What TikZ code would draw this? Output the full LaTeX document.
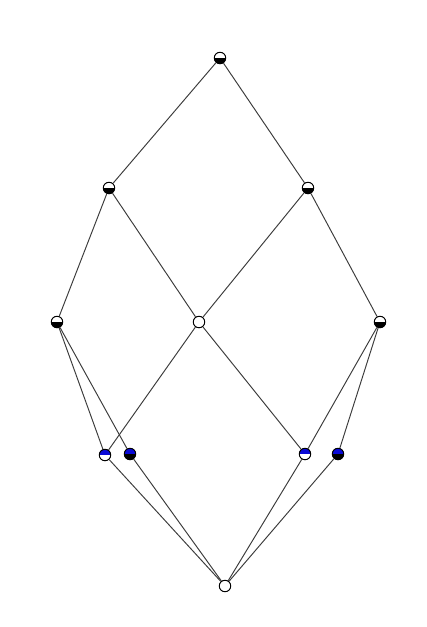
\documentclass[tikz,border=0pt]{standalone}
\usepackage{tikz}
\usepackage{xcolor}
\usetikzlibrary{positioning}
\definecolor{latticeblue}{RGB}{10,10,215}
\definecolor{latticegray}{RGB}{60,60,60}

\begin{document}
\begin{tikzpicture}[
  x=0.02cm, y=-0.02cm,
  concept/.style 2 args={circle, draw=black, line width=0.55pt, minimum size=0.23cm, inner sep=0pt,
    path picture={
      \fill[#1] (path picture bounding box.west) rectangle (path picture bounding box.north east);
      \fill[#2] (path picture bounding box.west) rectangle (path picture bounding box.south east);}},
  edge line/.style={latticegray, line width=0.55pt}
]
\useasboundingbox (0,0) rectangle (427,627);
% concepts, top to bottom
\node[concept={white}{black}] (top) at (220,58) {};
\node[concept={white}{black}] (upl) at (109,188) {};
\node[concept={white}{black}] (upr) at (308,188) {};
\node[concept={white}{black}] (midl) at (57,322) {};
\node[concept={white}{white}] (mid) at (199,322) {};
\node[concept={white}{black}] (midr) at (380,322) {};
\node[concept={latticeblue}{white}] (lowa) at (105,455) {};
\node[concept={latticeblue}{black}] (lowb) at (130,454) {};
\node[concept={latticeblue}{white}] (lowc) at (305,454) {};
\node[concept={latticeblue}{black}] (lowd) at (338,454) {};
\node[concept={white}{white}] (bot) at (225,586) {};
% cover relations
\foreach \a/\b in {top/upl, top/upr, upl/midl, upl/mid, upr/mid, upr/midr,
  midl/lowa, midl/lowb, mid/lowa, mid/lowc, midr/lowc, midr/lowd,
  lowa/bot, lowb/bot, lowc/bot, lowd/bot}
  \draw[edge line] (\a) -- (\b);
\end{tikzpicture}
\end{document}
